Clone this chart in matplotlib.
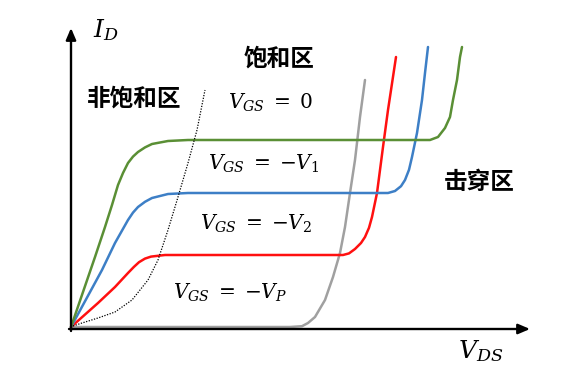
import matplotlib
matplotlib.use("Agg")
import matplotlib.pyplot as plt

plt.rcParams['mathtext.fontset'] = 'dejavuserif'
plt.rcParams['font.family'] = ['Noto Sans CJK SC', 'DejaVu Sans']

# ---- data (V_DS, I_D in arbitrary units) ----
green_x = [0, 0.6, 0.85, 1.025, 1.175, 1.3, 1.425, 1.55, 1.675, 1.85, 2.025, 2.425, 2.925,
           8.975, 9.175, 9.35, 9.475, 9.55, 9.65, 9.725, 9.775]
green_y = [0, 1.75, 2.5, 3.05, 3.55, 3.85, 4.1, 4.26, 4.375, 4.49, 4.575, 4.65, 4.675,
           4.675, 4.75, 4.975, 5.25, 5.675, 6.175, 6.75, 7.0]

blue_x = [0, 0.775, 1.1, 1.425, 1.55, 1.675, 1.85, 2.025, 2.425, 2.925,
          7.925, 8.1, 8.25, 8.35, 8.45, 8.525, 8.65, 8.775, 8.85, 8.925]
blue_y = [0, 1.425, 2.1, 2.675, 2.86, 3.0, 3.13, 3.225, 3.325, 3.35,
          3.35, 3.4, 3.52, 3.675, 3.93, 4.25, 4.85, 5.675, 6.35, 7.0]

red_x = [0, 0.675, 1.1, 1.425, 1.57, 1.7, 1.85, 2.0, 2.35,
         6.8, 6.95, 7.1, 7.25, 7.35, 7.45, 7.525, 7.65, 7.725, 7.8, 7.925, 8.125]
red_y = [0, 0.6, 1.0, 1.35, 1.5, 1.62, 1.71, 1.76, 1.8,
         1.8, 1.84, 1.95, 2.1, 2.25, 2.48, 2.75, 3.35, 3.925, 4.5, 5.425, 6.75]

gray_x = [0, 5.475, 5.775, 5.925, 6.1, 6.35, 6.55, 6.725, 6.85, 6.975, 7.1, 7.225, 7.35]
gray_y = [0, 0, 0.02, 0.1, 0.25, 0.675, 1.25, 1.85, 2.5, 3.35, 4.175, 5.25, 6.175]

bound_x = [0.05, 0.275, 0.675, 1.1, 1.525, 1.925, 2.175, 2.425, 2.675, 2.925, 3.15, 3.35]
bound_y = [0.025, 0.1, 0.225, 0.375, 0.675, 1.175, 1.675, 2.425, 3.25, 4.1, 4.925, 5.925]

x_max = 11.475
y_max = 7.475

fig = plt.figure(figsize=(5.78, 3.82), dpi=100)
ax = fig.add_axes([0, 0, 1, 1])
ax.set_xlim(-1.775, 12.675)
ax.set_ylim(-1.375, 8.175)
ax.axis('off')

lw = 1.8
kw = dict(lw=lw, solid_capstyle='round', solid_joinstyle='round')
ax.plot(gray_x, gray_y, color='#a0a0a0', zorder=3, **kw)
ax.plot(red_x, red_y, color='#ff1010', zorder=4, **kw)
ax.plot(blue_x, blue_y, color='#3d7fc6', zorder=4, **kw)
ax.plot(green_x, green_y, color='#5a8f35', zorder=4, **kw)
ax.plot(bound_x, bound_y, color='black', lw=0.9, ls=(0, (1, 1.2)), zorder=5)

# axes with arrows
arrow = dict(arrowstyle='-|>,head_length=0.7,head_width=0.3', color='black', lw=1.7,
             shrinkA=0, shrinkB=0)
ax.annotate('', xy=(x_max, -0.05), xytext=(-0.05, -0.05), arrowprops=arrow, zorder=6)
ax.annotate('', xy=(0, y_max), xytext=(0, -0.1), arrowprops=arrow, zorder=6)

ax.text(0.55, 7.25, r'$I_D$', fontsize=18, ha='left', va='baseline')
ax.text(9.675, -0.775, r'$V_{DS}$', fontsize=18, ha='left', va='baseline')
ms = 14.5
ax.text(3.925, 5.45, r'$V_{GS}\;=\;0$', fontsize=ms, ha='left', va='baseline')
ax.text(3.425, 3.925, r'$V_{GS}\;=\;{-}V_1$', fontsize=ms, ha='left', va='baseline')
ax.text(3.225, 2.425, r'$V_{GS}\;=\;{-}V_2$', fontsize=ms, ha='left', va='baseline')
ax.text(2.55, 0.7, r'$V_{GS}\;=\;{-}V_P$', fontsize=ms, ha='left', va='baseline')

cs = 17
ax.text(5.2, 6.7, '饱和区', fontsize=cs, fontweight='bold', ha='center', va='center')
ax.text(1.575, 5.7, '非饱和区', fontsize=cs, fontweight='bold', ha='center', va='center')
ax.text(10.2, 3.625, '击穿区', fontsize=cs, fontweight='bold', ha='center', va='center')

fig.savefig('out.png', dpi=100)
